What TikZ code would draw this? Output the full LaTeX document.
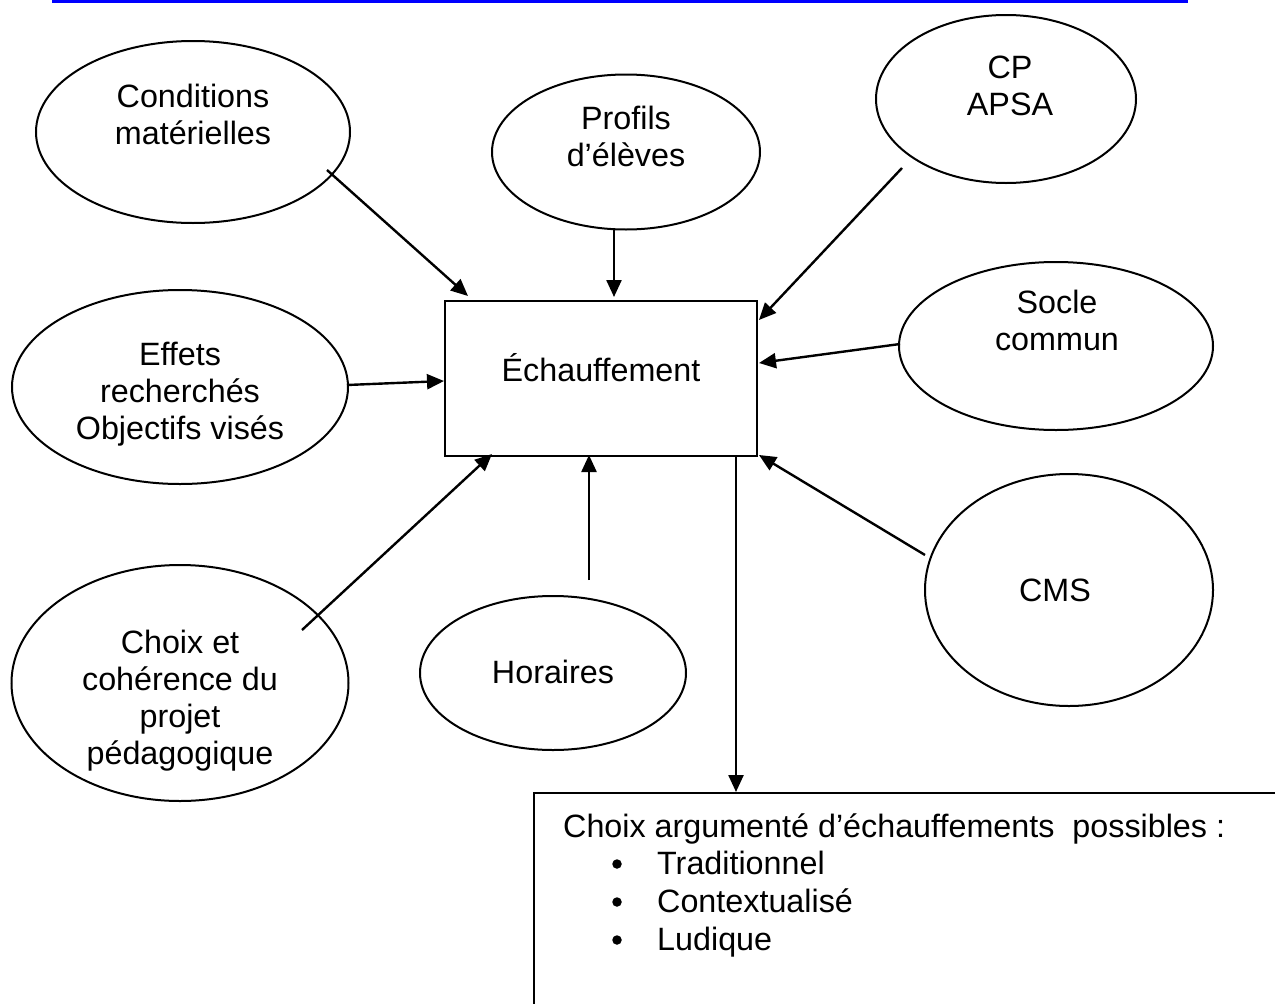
\documentclass[tikz,border=0pt]{standalone}
\usepackage{fontspec}
\setmainfont{Liberation Sans}
\usetikzlibrary{arrows.meta,shapes.geometric}
\begin{document}
\begin{tikzpicture}[x=1pt,y=-1pt,
  oval/.style={draw,ellipse,inner sep=0pt,line width=2pt},
  lbl/.style={align=center,inner sep=0pt,font=\fontsize{32.3}{37}\selectfont},
  txt/.style={anchor=base west,inner sep=0pt,font=\fontsize{32.3}{37}\selectfont},
  dot/.style={circle,fill,inner sep=0pt,minimum size=9.5pt},
  arr/.style={line width=2.4pt,-{Triangle[length=17pt,width=15pt]}},
  box/.style={draw,line width=2pt,inner sep=0pt}]
\useasboundingbox (0,0) rectangle (1275,1004);
\draw[blue,line width=3pt] (52,1.5) -- (1188,1.5);

% ellipses
\node[oval,minimum width=314pt,minimum height=182pt] (cond) at (193,132) {};
\node[lbl] (condt) at (193,114) {Conditions\\matérielles};
\node[oval,minimum width=268pt,minimum height=155pt] (prof) at (626,152) {};
\node[lbl] (proft) at (626,136) {Profils\\d’élèves};
\node[oval,minimum width=260pt,minimum height=168pt] (cp) at (1006,99) {};
\node[lbl] (cpt) at (1010,86) {CP\\APSA};
\node[oval,minimum width=314pt,minimum height=168pt] (socle) at (1056,346) {};
\node[lbl] (soclet) at (1057,320) {Socle\\commun};
\node[oval,minimum width=336pt,minimum height=194pt] (eff) at (180,387) {};
\node[lbl] (efft) at (180,394) {Effets\\recherchés\\Objectifs visés};
\node[oval,minimum width=288pt,minimum height=232pt] (cms) at (1069,590) {};
\node[lbl] (cmst) at (1055,590) {CMS};
\node[oval,minimum width=266pt,minimum height=154pt] (hor) at (553,673) {};
\node[lbl] (hort) at (553,672) {Horaires};
\node[oval,minimum width=337pt,minimum height=236pt] (choix) at (180,683) {};
\node[lbl] (choixt) at (180,701) {Choix et\\cohérence du\\projet\\pédagogique};

% central box
\node[box,minimum width=312pt,minimum height=155pt] (ech) at (601,378) {};
\node[lbl] (echt) at (601,368) {Échauffement};

% output box
\draw[line width=2pt] (534,1010) -- (534,793) -- (1280,793);
\coordinate (outtl) at (534,793);
\node[txt] (o1) at (563,837) {Choix argumenté d’échauffements\ \ possibles :};
\node[dot] (b1) at (617,864) {};
\node[txt] (o2) at (657,874) {Traditionnel};
\node[dot] (b2) at (617,902) {};
\node[txt] (o3) at (657,912) {Contextualisé};
\node[dot] (b3) at (617,940) {};
\node[txt] (o4) at (657,950) {Ludique};

% connector end points
\coordinate (c1s) at (327,170);  \coordinate (c1e) at (468,296);
\coordinate (c2s) at (614,230);  \coordinate (c2e) at (614,297);
\coordinate (c3s) at (902,168);  \coordinate (c3e) at (759,320);
\coordinate (c4s) at (900,344);  \coordinate (c4e) at (759,363);
\coordinate (c5s) at (347,385);  \coordinate (c5e) at (444,381);
\coordinate (c6s) at (302,630);  \coordinate (c6e) at (492,454);
\coordinate (c7s) at (589,580);  \coordinate (c7e) at (589,455);
\coordinate (c8s) at (925,555);  \coordinate (c8e) at (759,455);
\coordinate (c9s) at (736,455);  \coordinate (c9e) at (736,792);

\draw[arr] (c1s) -- (c1e);
\draw[arr] (c2s) -- (c2e);
\draw[arr] (c3s) -- (c3e);
\draw[arr] (c4s) -- (c4e);
\draw[arr] (c5s) -- (c5e);
\draw[arr] (c6s) -- (c6e);
\draw[arr] (c7s) -- (c7e);
\draw[arr] (c8s) -- (c8e);
\draw[arr] (c9s) -- (c9e);
\end{tikzpicture}
\end{document}
